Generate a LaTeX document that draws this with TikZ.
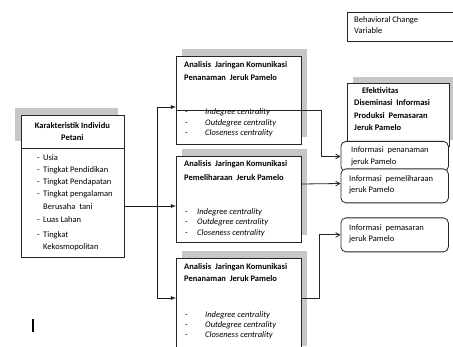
\documentclass[tikz,border=0pt]{standalone}
\usepackage{fontspec}
\setmainfont{Carlito}
\usetikzlibrary{shadows,arrows,calc}
\tikzstyle{boxstyle}=[draw=black!85, fill=white, line width=0.8pt, inner sep=0pt, anchor=north west]
\tikzstyle{headbox}=[boxstyle, minimum width=103pt, minimum height=33pt, align=center,
  font=\fontsize{8.5}{12}\selectfont\bfseries,
  drop shadow={shadow xshift=-6pt, shadow yshift=7pt, fill=black!22, opacity=1}]
\tikzstyle{listbox}=[boxstyle, minimum width=103pt, minimum height=109pt]
\tikzstyle{anabox}=[boxstyle, minimum width=125pt,
  drop shadow={shadow xshift=6pt, shadow yshift=7pt, fill=black!22, opacity=1}]
\tikzstyle{infobox}=[boxstyle, rounded corners=5pt, minimum width=107.5pt]
\tikzstyle{texto}=[anchor=north west, align=left, inner sep=0pt, font=\fontsize{8.5}{12.5}\selectfont]
\tikzstyle{judul}=[texto, font=\fontsize{8.5}{12.7}\selectfont\bfseries]
\tikzstyle{feed}=[draw, line width=0.8pt, black!90, -latex]
\tikzstyle{infoline}=[draw, line width=0.8pt, black!85, -angle 60]
\newcommand{\butir}[2]{\makebox[#1][l]{-}\textit{#2}}
\newcommand{\ana}[3]{node (p#1) [anabox, minimum height=#2] {#3}}

\begin{document}
\begin{tikzpicture}[x=1pt, y=-1pt]
\useasboundingbox (0,0) rectangle (453,347);

% Draw diagram elements
\path (20.5,115) node (pK) [headbox] {Karakteristik Individu\\Petani};
\path (20.5,148) node (pKL) [listbox] {};
\path (37,154) node (tKL) [texto, font=\fontsize{8.5}{12.2}\selectfont]
  {\makebox[6pt][l]{-}Usia\\ \makebox[6pt][l]{-}Tingkat Pendidikan\\
   \makebox[6pt][l]{-}Tingkat Pendapatan\\ \makebox[6pt][l]{-}Tingkat pengalaman\\[0.8pt]
   \hspace*{6pt}Berusaha\ \ tani\\[0.8pt] \makebox[6pt][l]{-}Luas Lahan\\[2.8pt]
   \makebox[6pt][l]{-}Tingkat\\ \hspace*{6pt}Kekosmopolitan};

\path (176,56)  \ana{A}{88pt}{};
\path (176,156) \ana{B}{86pt}{};
\path (176,258) \ana{C}{95pt}{};

\path (184,61.5) node (tA) [judul]
  {Analisis\ \ Jaringan Komunikasi\\Penanaman\ \ Jeruk Pamelo};
\path (184,160.5) node (tB) [judul, font=\fontsize{8.5}{14}\selectfont\bfseries]
  {Analisis\ \ Jaringan Komunikasi\\Pemeliharaan\ \ Jeruk Pamelo};
\path (184,263.5) node (tC) [judul, font=\fontsize{8.5}{11.5}\selectfont\bfseries]
  {Analisis\ \ Jaringan Komunikasi\\Penanaman\ \ Jeruk Pamelo};

% separator of the first box
\draw[line width=0.8pt, black!85] ($(pA.north west)+(0,54)$) -- ($(pA.north east)+(0,54)$);

\path (185,108.5) node (lA) [texto, font=\fontsize{8.5}{10.7}\selectfont]
  {\butir{20pt}{Indegree centrality}\\ \butir{20pt}{Outdegree centrality}\\ \butir{20pt}{Closeness centrality}};
\path (185,208) node (lB) [texto, font=\fontsize{8.5}{10.6}\selectfont]
  {\butir{12pt}{Indegree centrality}\\ \butir{12pt}{Outdegree centrality}\\ \butir{12pt}{Closeness centrality}};
\path (185,311) node (lC) [texto, font=\fontsize{8.5}{10}\selectfont]
  {\butir{20pt}{Indegree centrality}\\ \butir{20pt}{Outdegree centrality}\\ \butir{20pt}{Closeness centrality}};

\path (347,12) node (pBeh) [boxstyle, minimum width=108pt, minimum height=29.5pt] {};
\path (354,16) node (tBeh) [texto, font=\fontsize{8.5}{11.5}\selectfont] {Behavioral Change\\Variable};

\path (347,83) node (pE) [boxstyle, minimum width=101.5pt, minimum height=63pt,
  drop shadow={shadow xshift=6pt, shadow yshift=6pt, fill=black!22, opacity=1}] {};
\path (354,87) node (tE) [judul, font=\fontsize{8.5}{12.5}\selectfont\bfseries]
  {\hspace*{8pt}Efektivitas\\Diseminasi\ \ Informasi\\Produksi\ \ Pemasaran\\Jeruk Pamelo};

\path (340.5,141)   node (iA) [infobox, minimum height=30pt] {};
\path (351,146) node (tiA) [texto, font=\fontsize{8.5}{12.3}\selectfont] {Informasi\ \ penanaman\\jeruk Pamelo};
\path (340.5,168.5) node (iB) [infobox, minimum height=34pt] {};
\path (349,175) node (tiB) [texto, font=\fontsize{8.5}{11.7}\selectfont] {Informasi\ \ pemeliharaan\\jeruk Pamelo};
\path (340.5,217.5) node (iC) [infobox, minimum height=34pt] {};
\path (349,224) node (tiC) [texto, font=\fontsize{8.5}{11}\selectfont] {Informasi\ \ pemasaran\\jeruk Pamelo};

% Draw arrows between elements
\coordinate (bus) at (157,206);
\path [feed] ($(pKL.north east)+(0,58)$) -- ($(pB.north west)+(0,50)$);
\path [feed] (bus) |- ($(pA.north west)+(0,51)$);
\path [feed] (bus) |- ($(pC.north west)+(0,40)$);

\path [infoline] ($(pA.north east)+(0,54)$) -- ++(20,0) |- (iA.west);
\path [infoline] ($(pB.north east)+(0,28)$) -- ($(iB.north west)+(0,15)$);
\path [infoline] ($(pC.north east)+(0,40)$) -- ++(18,0) |- (iC.west);

\draw[line width=1.6pt] (33,319.5) -- (33,332.5);
\end{tikzpicture}
\end{document}
